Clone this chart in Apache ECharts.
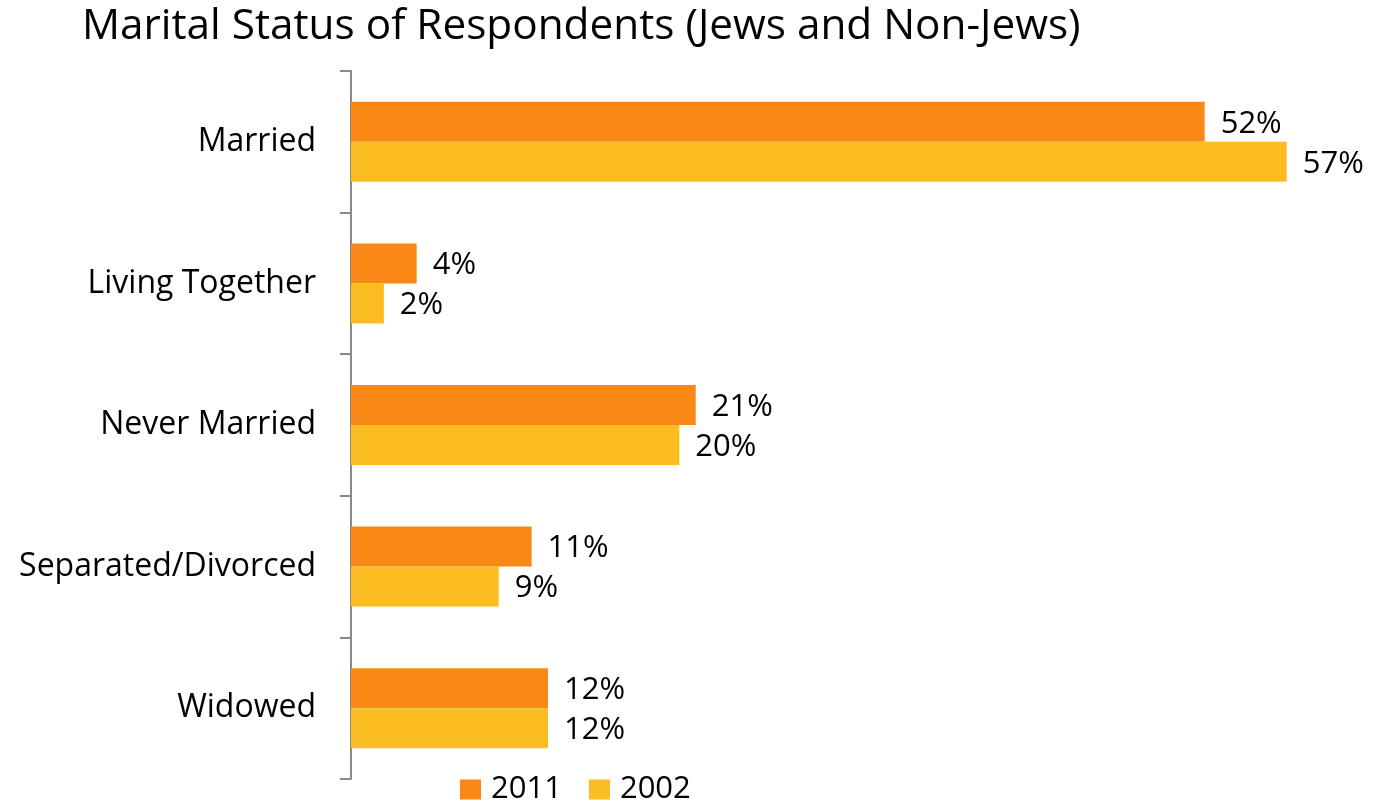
<!DOCTYPE html>
<html><head><meta charset="utf-8">
<script src="https://cdn.jsdelivr.net/npm/echarts@6/dist/echarts.min.js"></script>
<style>html,body{margin:0;padding:0;background:#fff}#c{width:1377px;height:804px}</style>
</head><body><div id="c"></div>
<script>
var categories = ["Married", "Living Together", "Never Married", "Separated/Divorced", "Widowed"];
var values2011 = [52, 4, 21, 11, 12];
var values2002 = [57, 2, 20, 9, 12];
var seriesNames = ["2011", "2002"];
var FONT = "Open Sans";
var chart = echarts.init(document.getElementById('c'));
var labelCfg = {show: true, position: 'right', distance: 16, offset: [0, 2], formatter: '{c}%', color: '#000', fontSize: 31, fontFamily: FONT};
chart.setOption({
  animation: false,
  title: {text: 'Marital Status of Respondents (Jews and Non-Jews)', left: 77, top: 1,
    textStyle: {fontFamily: FONT, fontSize: 42.3, fontWeight: 'normal', color: '#000'}},
  legend: {left: 460, top: 774, padding: 0, itemWidth: 21, itemHeight: 20, itemGap: 27, icon: 'rect',
    textStyle: {fontFamily: FONT, fontSize: 31, color: '#000', padding: [0,0,0,5]}, data: seriesNames},
  grid: {left: 351, top: 71, width: 985, height: 708, containLabel: false},
  xAxis: {type: 'value', min: 0, max: 60, show: false},
  yAxis: {type: 'category', data: categories, inverse: true,
    axisLine: {lineStyle: {color: '#898989', width: 2}},
    axisTick: {show: true, length: 11, lineStyle: {color: '#898989', width: 2}},
    axisLabel: {fontFamily: FONT, fontSize: 32, color: '#000', margin: 35, padding: [4, 0, 0, 0]}},
  series: [
    {name: seriesNames[0], type: 'bar', data: values2011, barGap: '0%', barCategoryGap: '43.5%',
      itemStyle: {color: '#FA8817'}, label: labelCfg},
    {name: seriesNames[1], type: 'bar', data: values2002, barGap: '0%', barCategoryGap: '43.5%',
      itemStyle: {color: '#FBBD22'}, label: labelCfg}
  ]
});
</script></body></html>
